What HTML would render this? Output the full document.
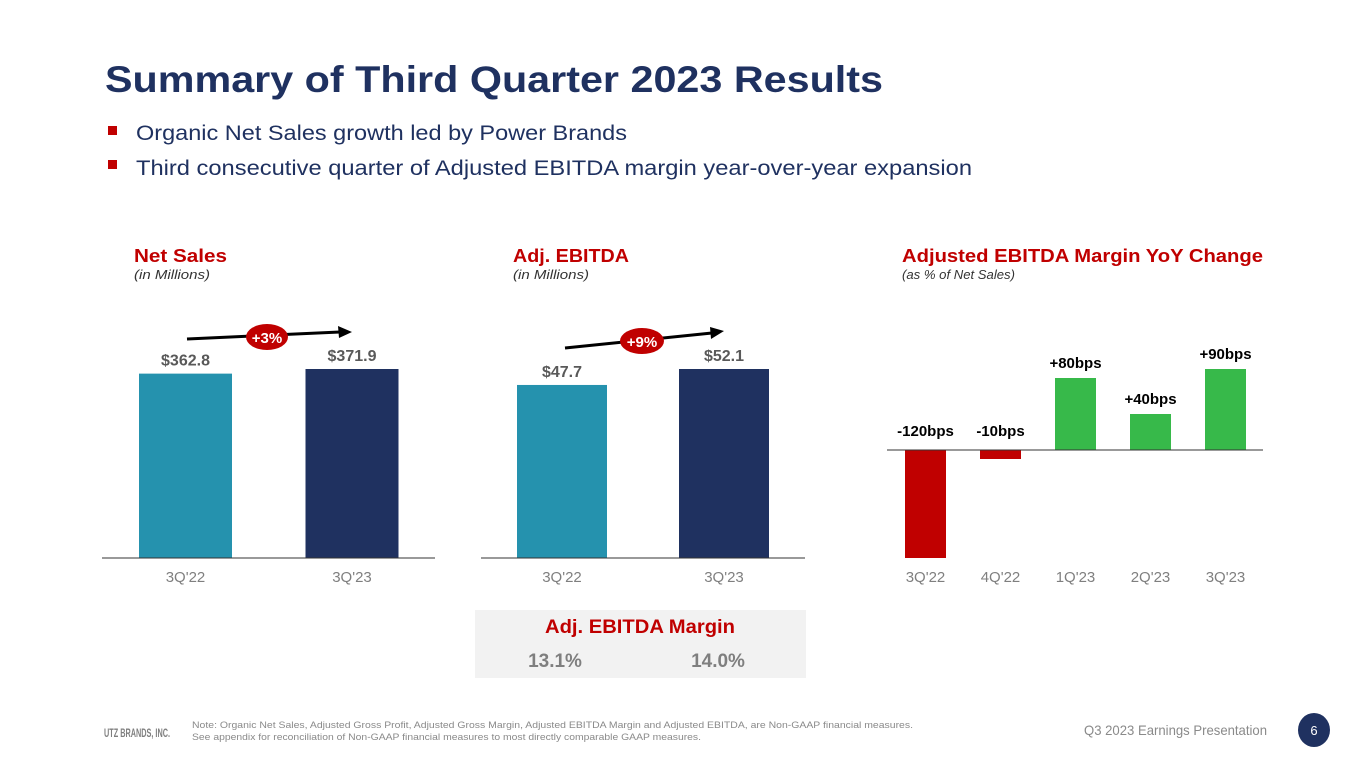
<!DOCTYPE html>
<html><head><meta charset="utf-8">
<style>
html,body{margin:0;padding:0;background:#fff;}
body{width:1365px;height:768px;overflow:hidden;position:relative;font-family:"Liberation Sans",sans-serif;}
svg{position:absolute;left:0;top:0;}
</style></head>
<body>
<svg id="s" width="1365" height="768" viewBox="0 0 1365 768">
  <text x="105" y="92" font-size="37" font-weight="bold" fill="#1f3160" textLength="778" lengthAdjust="spacingAndGlyphs">Summary of Third Quarter 2023 Results</text>
  <rect x="108" y="126" width="9" height="9" fill="#c00000"/>
  <text x="136" y="140" font-size="21" fill="#1f3160" textLength="491" lengthAdjust="spacingAndGlyphs">Organic Net Sales growth led by Power Brands</text>
  <rect x="108" y="160" width="9" height="9" fill="#c00000"/>
  <text x="136" y="175" font-size="21" fill="#1f3160" textLength="836" lengthAdjust="spacingAndGlyphs">Third consecutive quarter of Adjusted EBITDA margin year-over-year expansion</text>

  <text x="134" y="262" font-size="18" font-weight="bold" fill="#c00000" textLength="93" lengthAdjust="spacingAndGlyphs">Net Sales</text>
  <text x="134" y="279" font-size="13" font-style="italic" fill="#333" textLength="76" lengthAdjust="spacingAndGlyphs">(in Millions)</text>
  <text x="513" y="262" font-size="18" font-weight="bold" fill="#c00000" textLength="116" lengthAdjust="spacingAndGlyphs">Adj. EBITDA</text>
  <text x="513" y="279" font-size="13" font-style="italic" fill="#333" textLength="76" lengthAdjust="spacingAndGlyphs">(in Millions)</text>
  <text x="902" y="262" font-size="18" font-weight="bold" fill="#c00000" textLength="361" lengthAdjust="spacingAndGlyphs">Adjusted EBITDA Margin YoY Change</text>
  <text x="902" y="279" font-size="13" font-style="italic" fill="#333" textLength="113" lengthAdjust="spacingAndGlyphs">(as % of Net Sales)</text>

  <g id="charts"></g>

  <line x1="187" y1="339" x2="340" y2="332" stroke="#000" stroke-width="3"/>
  <polygon points="352,332 338,326 339,338" fill="#000"/>
  <ellipse cx="267" cy="337" rx="21" ry="13" fill="#c00000"/>
  <text x="267" y="343" font-size="15" font-weight="bold" fill="#fff" text-anchor="middle">+3%</text>
  <line x1="565" y1="348" x2="712" y2="333" stroke="#000" stroke-width="3"/>
  <polygon points="724,331 710,327 711,339" fill="#000"/>
  <ellipse cx="642" cy="341" rx="22" ry="13" fill="#c00000"/>
  <text x="642" y="347" font-size="15" font-weight="bold" fill="#fff" text-anchor="middle">+9%</text>

  <rect x="475" y="610" width="331" height="68" fill="#f2f2f2"/>
  <text x="640" y="633" font-size="19" font-weight="bold" fill="#c00000" text-anchor="middle" textLength="190" lengthAdjust="spacingAndGlyphs">Adj. EBITDA Margin</text>
  <text x="555" y="667" font-size="19" font-weight="bold" fill="#7f7f7f" text-anchor="middle">13.1%</text>
  <text x="718" y="667" font-size="19" font-weight="bold" fill="#7f7f7f" text-anchor="middle">14.0%</text>

  <text x="104" y="737" font-size="12" font-weight="bold" fill="#7f7f7f" textLength="66" lengthAdjust="spacingAndGlyphs">UTZ BRANDS, INC.</text>
  <text x="192" y="728" font-size="9.5" fill="#8a8a8a" textLength="721" lengthAdjust="spacingAndGlyphs">Note:  Organic Net Sales, Adjusted Gross Profit, Adjusted Gross Margin, Adjusted EBITDA Margin and Adjusted EBITDA, are Non-GAAP financial measures.</text>
  <text x="192" y="740" font-size="9.5" fill="#8a8a8a" textLength="509" lengthAdjust="spacingAndGlyphs">See appendix for reconciliation of Non-GAAP financial measures to most directly comparable GAAP measures.</text>
  <text x="1084" y="735" font-size="14" fill="#8a8a8a" textLength="183" lengthAdjust="spacingAndGlyphs">Q3 2023 Earnings Presentation</text>
  <ellipse cx="1314" cy="730" rx="16" ry="17" fill="#1f3160"/>
  <text x="1314" y="735" font-size="13" fill="#fff" text-anchor="middle">6</text>
</svg>
<script>
const salesCats = ["3Q'22","3Q'23"];
const salesVals = [362.8, 371.9];
const salesLabels = ["$362.8","$371.9"];
const ebitdaCats = ["3Q'22","3Q'23"];
const ebitdaVals = [47.7, 52.1];
const ebitdaLabels = ["$47.7","$52.1"];
const marginCats = ["3Q'22","4Q'22","1Q'23","2Q'23","3Q'23"];
const marginVals = [-120, -10, 80, 40, 90];
const marginLabels = ["-120bps","-10bps","+80bps","+40bps","+90bps"];

const NS = "http://www.w3.org/2000/svg";
const g = document.getElementById('charts');
function mk(tag, attrs, text){
  const e = document.createElementNS(NS, tag);
  for (const k in attrs) e.setAttribute(k, attrs[k]);
  if (text !== undefined) e.textContent = text;
  g.appendChild(e);
  return e;
}
const colors2 = ["#2592ae","#1f3160"];

(function(){
  const base = 558, k = 189/371.9;
  const y = v => base - v*k;
  const xs = [185.5, 352]; const w = 93;
  salesVals.forEach((v,i)=>{
    const r = mk('rect',{x:xs[i]-w/2,y:y(v),width:w,height:base-y(v),fill:colors2[i]});
    
    
    const t = mk('text',{x:xs[i],y:y(v)-8,'font-size':16,'font-weight':'bold',fill:'#595959','text-anchor':'middle'},salesLabels[i]);
    
    
    const c = mk('text',{x:xs[i],y:582,'font-size':15,fill:'#7f7f7f','text-anchor':'middle'},salesCats[i]);
    
    
  });
  const l = mk('line',{x1:102,y1:base,x2:435,y2:base,stroke:'#333','stroke-width':1});
  
  
})();

(function(){
  const base = 558, k = 189/52.1;
  const y = v => base - v*k;
  const xs = [562, 724]; const w = 90;
  ebitdaVals.forEach((v,i)=>{
    const r = mk('rect',{x:xs[i]-w/2,y:y(v),width:w,height:base-y(v),fill:colors2[i]});
    
    
    const t = mk('text',{x:xs[i],y:y(v)-8,'font-size':16,'font-weight':'bold',fill:'#595959','text-anchor':'middle'},ebitdaLabels[i]);
    
    
    const c = mk('text',{x:xs[i],y:582,'font-size':15,fill:'#7f7f7f','text-anchor':'middle'},ebitdaCats[i]);
    
    
  });
  const l = mk('line',{x1:481,y1:base,x2:805,y2:base,stroke:'#333','stroke-width':1});
  
  
})();

(function(){
  const zero = 450, k = 0.9;
  const y = v => zero - v*k;
  const x = i => 925.5 + i*75; const w = 41;
  marginVals.forEach((v,i)=>{
    const top = Math.min(y(v), zero), h = Math.abs(y(v)-zero);
    const r = mk('rect',{x:x(i)-w/2,y:top,width:w,height:h,fill: v<0?'#c00000':'#37b94a'});
    
    
    const ly = v>=0 ? y(v)-10 : zero-14;
    const t = mk('text',{x:x(i),y:ly,'font-size':15,'font-weight':'bold',fill:'#000','text-anchor':'middle'},marginLabels[i]);
    
    
    const c = mk('text',{x:x(i),y:582,'font-size':15,fill:'#7f7f7f','text-anchor':'middle'},marginCats[i]);
    
    
  });
  const l = mk('line',{x1:887,y1:zero,x2:1263,y2:zero,stroke:'#333','stroke-width':1});
  
  
})();
</script>
</body></html>
